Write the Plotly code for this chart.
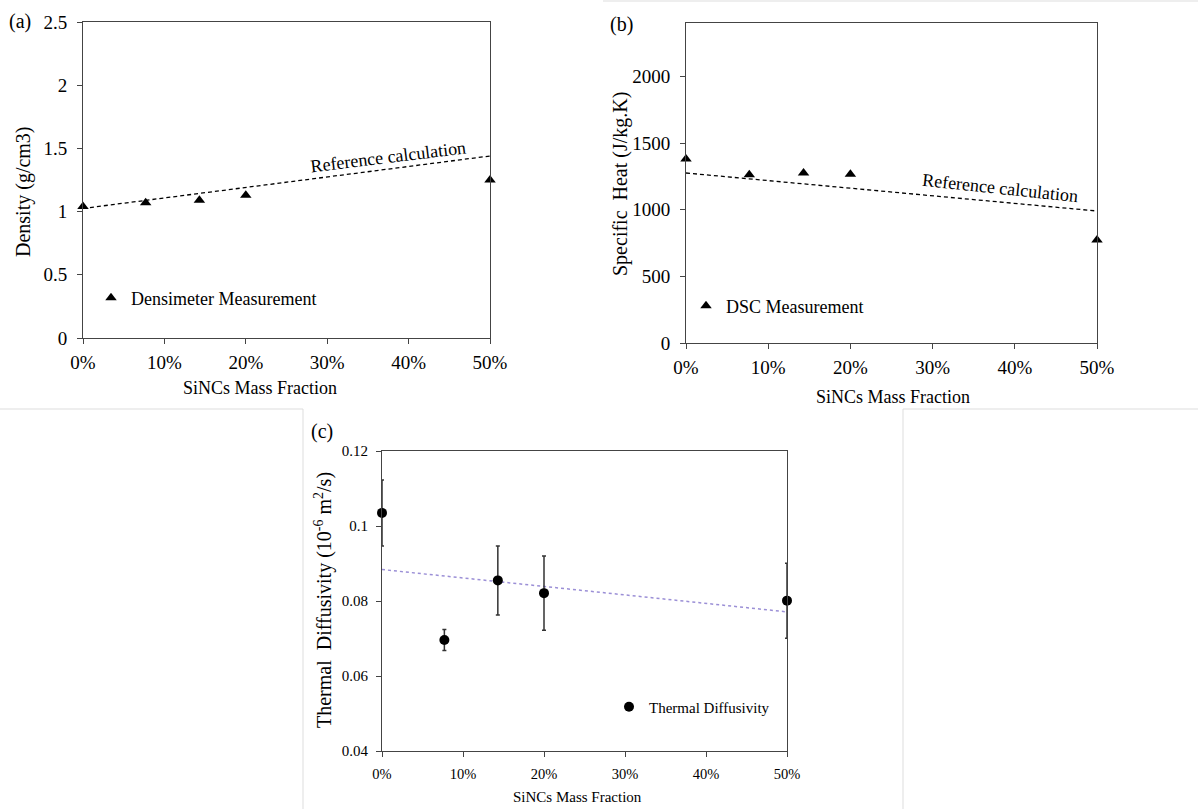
import plotly.graph_objects as go

W, H = 1198, 809
FONT = "Liberation Serif, Times New Roman, serif"

# ---------------- data ----------------
mass_fraction = [0.0, 0.077, 0.143, 0.20, 0.50]
x_ticks = [0.0, 0.1, 0.2, 0.3, 0.4, 0.5]
x_tick_text = ["0%", "10%", "20%", "30%", "40%", "50%"]

# (a) density
density_meas = [1.04, 1.07, 1.09, 1.13, 1.25]
ref_x = [0.0, 0.5]
density_ref = [1.025, 1.44]
density_ticks = [0, 0.5, 1, 1.5, 2, 2.5]
density_tick_text = ["0", "0.5", "1", "1.5", "2", "2.5"]

# (b) specific heat
cp_meas = [1380, 1262, 1275, 1265, 772]
cp_ref = [1275, 990]
cp_ticks = [0, 500, 1000, 1500, 2000]
cp_tick_text = ["0", "500", "1000", "1500", "2000"]

# (c) thermal diffusivity
diff_meas = [0.1035, 0.0696, 0.0855, 0.0821, 0.0801]
diff_err = [0.0088, 0.0028, 0.0092, 0.0099, 0.0100]
diff_trend = [0.0884, 0.0771]
diff_ticks = [0.04, 0.06, 0.08, 0.10, 0.12]
diff_tick_text = ["0.04", "0.06", "0.08", "0.1", "0.12"]


def px(x):
    return x / W


def py(y):
    return 1 - y / H


fig = go.Figure()

# (a)
fig.add_trace(go.Scatter(x=ref_x, y=density_ref, mode="lines", xaxis="x", yaxis="y",
                         line=dict(color="black", width=1.3, dash="4px,3px"),
                         showlegend=False, hoverinfo="skip"))
fig.add_trace(go.Scatter(x=mass_fraction, y=density_meas, mode="markers", xaxis="x", yaxis="y",
                         name="Densimeter Measurement", legend="legend",
                         marker=dict(symbol="triangle-up", size=10, color="black"),
                         cliponaxis=False))
# (b)
fig.add_trace(go.Scatter(x=ref_x, y=cp_ref, mode="lines", xaxis="x2", yaxis="y2",
                         line=dict(color="black", width=1.3, dash="4px,3px"),
                         showlegend=False, hoverinfo="skip"))
fig.add_trace(go.Scatter(x=mass_fraction, y=cp_meas, mode="markers", xaxis="x2", yaxis="y2",
                         name="DSC Measurement", legend="legend2",
                         marker=dict(symbol="triangle-up", size=10, color="black"),
                         cliponaxis=False))
# (c)
fig.add_trace(go.Scatter(x=ref_x, y=diff_trend, mode="lines", xaxis="x3", yaxis="y3",
                         line=dict(color="#9b8fd6", width=1.5, dash="dot"),
                         showlegend=False, hoverinfo="skip"))
fig.add_trace(go.Scatter(x=mass_fraction, y=diff_meas, mode="markers", xaxis="x3", yaxis="y3",
                         name="Thermal Diffusivity", legend="legend3",
                         error_y=dict(type="data", array=diff_err, visible=True,
                                      color="#333333", thickness=1.5, width=2),
                         marker=dict(symbol="circle", size=10, color="black"),
                         cliponaxis=False))

axis_common = dict(showgrid=False, zeroline=False, showline=True, linecolor="#444444",
                   linewidth=1, mirror=True, ticks="outside", ticklen=5, tickcolor="#444444",
                   tickwidth=1, automargin=False)

fig.update_layout(
    template="none",
    width=W, height=H,
    margin=dict(l=0, r=0, t=0, b=0, autoexpand=False),
    paper_bgcolor="white", plot_bgcolor="white",
    font=dict(family=FONT, color="black"),
    xaxis=dict(domain=[px(83), px(490)], anchor="y", range=[0, 0.5],
               tickvals=x_ticks, ticktext=x_tick_text, tickfont=dict(size=19),
               ticklabelstandoff=2, **axis_common),
    yaxis=dict(domain=[py(338), py(22)], anchor="x", range=[0, 2.5],
               tickvals=density_ticks, ticktext=density_tick_text, tickfont=dict(size=19),
               ticklabelstandoff=6, **axis_common),
    xaxis2=dict(domain=[px(686), px(1097)], anchor="y2", range=[0, 0.5],
                tickvals=x_ticks, ticktext=x_tick_text, tickfont=dict(size=19),
                ticklabelstandoff=2, **axis_common),
    yaxis2=dict(domain=[py(343), py(23)], anchor="x2", range=[0, 2400],
                tickvals=cp_ticks, ticktext=cp_tick_text, tickfont=dict(size=19),
                ticklabelstandoff=6, **axis_common),
    xaxis3=dict(domain=[px(382), px(787)], anchor="y3", range=[0, 0.5],
                tickvals=x_ticks, ticktext=x_tick_text, tickfont=dict(size=14.5),
                ticklabelstandoff=5, **axis_common),
    yaxis3=dict(domain=[py(751), py(451)], anchor="x3", range=[0.04, 0.12],
                tickvals=diff_ticks, ticktext=diff_tick_text, tickfont=dict(size=15),
                ticklabelstandoff=5, **axis_common),
    legend=dict(x=px(91), y=py(298), xanchor="left", yanchor="middle",
                bgcolor="rgba(0,0,0,0)", borderwidth=0, font=dict(size=18), itemwidth=30),
    legend2=dict(x=px(686), y=py(306), xanchor="left", yanchor="middle",
                 bgcolor="rgba(0,0,0,0)", borderwidth=0, font=dict(size=18), itemwidth=30),
    legend3=dict(x=px(609), y=py(707), xanchor="left", yanchor="middle",
                 bgcolor="rgba(0,0,0,0)", borderwidth=0, font=dict(size=15), itemwidth=30),
)

ann = []


def add_text(text, x, y, size, angle=0):
    ann.append(dict(text=text, x=px(x), y=py(y), xref="paper", yref="paper",
                    showarrow=False, xanchor="center", yanchor="middle",
                    textangle=angle, font=dict(size=size, family=FONT, color="black")))


add_text("(a)", 20, 22, 20)
add_text("(b)", 621, 25, 20)
add_text("(c)", 322, 431, 20)
add_text("Density (g/cm3)", 23, 192, 20, -90)
add_text("Specific  Heat (J/kg.K)", 621, 184, 20, -90)
add_text("Thermal  Diffusivity (10<sup>-6</sup> m<sup>2</sup>/s)", 323, 600, 20, -90)
add_text("SiNCs Mass Fraction", 260, 388, 18)
add_text("SiNCs Mass Fraction", 893, 397, 18)
add_text("SiNCs Mass Fraction", 577, 797, 15)
add_text("Reference calculation", 388, 157, 18, -7)
add_text("Reference calculation", 1000, 188, 18, 6)
fig.update_layout(annotations=ann)

# faint panel-separator lines from the original collage
sep = dict(type="line", xref="paper", yref="paper", line=dict(color="#dddddd", width=1))
fig.add_shape(x0=0, x1=px(303), y0=py(409), y1=py(409), **sep)
fig.add_shape(x0=px(303), x1=px(303), y0=py(409), y1=0, **sep)
fig.add_shape(x0=px(903), x1=1, y0=py(409), y1=py(409), **sep)
fig.add_shape(x0=px(903), x1=px(903), y0=py(409), y1=0, **sep)
fig.add_shape(x0=px(603), x1=1, y0=py(1), y1=py(1), **sep)

# remove the browser's default page margin so the figure sits at (0, 0)
fig.write_html("out.html",
               config={"displayModeBar": False},
               post_script="document.body.style.margin='0';document.body.style.overflow='hidden';")
